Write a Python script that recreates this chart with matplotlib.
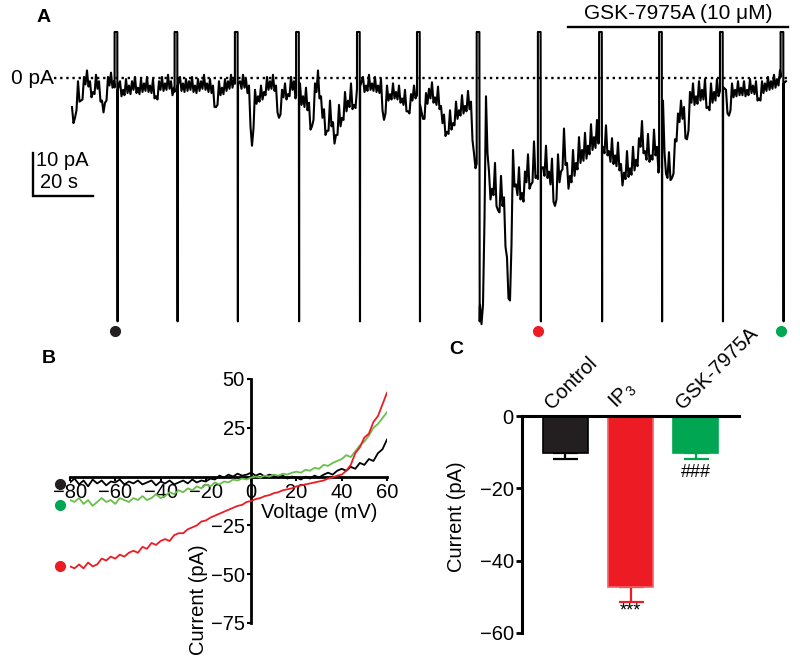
import numpy as np
import matplotlib
matplotlib.use('Agg')
import matplotlib.pyplot as plt

plt.rcParams['font.family'] = ['Liberation Sans', 'DejaVu Sans']
plt.rcParams['mathtext.fontset'] = 'custom'
plt.rcParams['mathtext.rm'] = 'Liberation Sans'
plt.rcParams['mathtext.it'] = 'Liberation Sans:italic'
plt.rcParams['mathtext.bf'] = 'Liberation Sans:bold'

BLACK = '#231f20'
RED = '#ed1c24'
GREEN = '#00a651'
LIGHT_GREEN = '#6abf4b'

# ---- panel A: whole-cell current, one sample per second (pA)
trace_pa = [
    -8, -10.5, -2, -6.5, -1, 0.5, -2, -4.5, -0.5, -2, -6.5, -7, -1, 0, -2,
    -3, -2, -4, -1.5, -3, -2, -1, -3.5, -1.5, -2.5, -1, -3, -1.5, -5.5, -2, -1, -2.5, -0.5, -2, -3.5,
    -2, -1, -2.5, -1.5, -2, -1, -3, -1.5, -2, -0.5, -2.5, -1.5, -3, -8, -2, -3.5, -1.5, -2, -0.5, -1.5,
    -1, -2, -0.5, -1.5, -3, -17, -4, -5.5, -3, -4.5, -1, -2, -0.5, -3, -10.5, -4, -2.5, -5, -1, -2,
    -5, -3, -6, -4, -7.5, -13, -3, 0, -6, -9, -14, -7, -12, -15, -8, -11, -5, -7, -3, -8, -2.5,
    -2, -1, -3, -0.5, -2.5, -1, -3, -1.5, -11, -3, -5, -2.5, -4.5, -3, -6, -4, -9, -5, -3, -4,
    -6, -11, -5, -4, -2.5, -6, -3.5, -8, -10, -14, -9, -12, -7, -9, -5.5, -8, -4.5, -7, -19, -20,
    -55, -55, -6.5, -24, -28, -22, -33, -25, -30, -44, -54, -19, -27, -23, -29, -24, -20, -27, -17, -25,
    -20, -23, -18, -24, -21, -32, -20, -24, -14, -22, -25, -19, -22, -16, -19, -15, -18, -13, -16, -12,
    -14, -18, -13, -19, -16, -20, -17, -22, -24, -19, -23, -18, -21, -16, -12, -19, -15, -20, -14, -18,
    -22, -7, -24, -19, -25, -16, -10, -7, -8.5, -16, -5, -3, -6, -2.5, -4.5, -2, -8.5, -3, -5, -2,
    -3, -2, -4, -10, -2.5, -4, -2, -3.5, -2, -4, -1.5, -3, -2, -6, -2, -2.5, -1, -2, -0.5, -1.5, 0.5, -1, -2,
]
ramp_times = [14.2, 34.2, 54.3, 74.7, 95.0, 115.0, 134.9, 155.3, 175.7, 195.7, 216.0, 236.2]
# peak-to-peak width of the fast noise band between successive ramps (pA)
noise_band_pa = [2.5, 2.5, 2.5, 2.5, 3.5, 2.5, 3.0, 4.5, 4.5, 4.0, 3.5, 2.5, 2.5]
ramp_top = 10.7
ramp_bottom = -56.6

# ---- panel B: I-V relations
voltage_mv = list(range(-80, 61, 2))
iv_control = [
    -3, -1, -4, -2, -5, -1.5, -3.5, -2, -4.5, -2.5, -3, -1.5, -4, -2.5, -3.5, -2, -4, -3,
    -2, -4.5, -2.5, -3.5, -2, -4, -3, -2, -3.5, -1.5, -3, -2, -2.5, -1, -1.5, 0.5, -0.5, 1,
    0, 1.5, 0.5, 1, 2, 0.5, 1.5, 0, 1, 0.5, -0.5, 0.5, -1, 0, -0.5, -1.5, 0, -1, 0.5, -0.5,
    1, 2, 1, 3, 4, 3, 5, 4, 7, 6, 9, 8, 12, 14, 19,
]
iv_gsk = [
    -12, -13, -11, -14, -12, -15, -13, -11, -13, -12, -14, -11, -12, -13, -11, -12, -10, -12,
    -11, -9, -11, -10, -8, -9, -7, -8, -6, -7, -5, -6, -4, -5, -3, -4, -2.5, -3,
    -1.5, -2, -1, -1.5, -0.5, 0, -0.5, 0.5, 0, 1, 0.5, 1.5, 1, 2, 2.5, 2, 3.5, 3, 4.5, 4,
    6, 5.5, 7, 8, 9, 11, 10, 13, 16, 18, 21, 25, 27, 30, 33,
]
iv_ip3 = [
    -46, -47, -45, -47, -44, -46, -45, -42, -43, -41, -42, -40, -41, -39, -38, -39, -36, -37,
    -34, -35, -33, -32, -33, -30, -29, -29, -27, -26, -25, -23, -22.5, -21, -20, -19, -18, -17,
    -16, -15, -14.5, -13, -12.5, -11.5, -11, -10, -9.5, -8.5, -8, -7, -6.5, -6, -5, -4.5, -4, -3.5, -3, -2.5,
    -2, -1, -0.5, 0.5, 1, 3, 6, 12, 15, 20, 22, 28, 31, 37, 43,
]

# ---- panel C: mean current at -80 mV
groups = ['Control', 'IP$_3$', 'GSK-7975A']
mean_pa = [-10.3, -47.3, -10.2]
sem_pa = [1.7, 4.0, 1.6]


def box(x0, y0, x1, y1):
    """Pixel box (top-left origin) to figure fraction."""
    return [x0 / 800, 1 - y1 / 660, (x1 - x0) / 800, (y1 - y0) / 660]


def build_trace(values, ramps, band, top, bottom):
    """Insert the voltage-ramp excursions and the fast noise band into the trace."""
    times = np.arange(len(values), dtype=float)
    xs, ys = [], []
    ri = 0
    skip_until = -1
    for t, v in zip(times, values):
        while ri < len(ramps) and ramps[ri] <= t:
            r = ramps[ri]
            xs += [r, r, r + 0.9, r + 1.0, r + 1.05]
            ys += [np.interp(r, times, values), top, top, bottom,
                   np.interp(r + 1.05, times, values)]
            skip_until = r + 1.05
            ri += 1
        if t <= skip_until:
            continue
        h = band[ri] / 2
        xs.append(t)
        ys.append(v + h)
        nxt = ramps[ri] if ri < len(ramps) else np.inf
        if t + 0.5 < nxt and t + 1 < len(values):
            xs.append(t + 0.5)
            ys.append(np.interp(t + 0.5, times, values) - h)
    return xs, ys


fig = plt.figure(figsize=(8, 6.6), dpi=100)

# ---------------- panel A
ax_a = fig.add_axes(box(0, 0, 800, 340))
ax_a.set_xlim(-24, 242.67)
ax_a.set_ylim(-60.93, 18.14)
ax_a.axis('off')

tx, ty = build_trace(trace_pa, ramp_times, noise_band_pa, ramp_top, ramp_bottom)
ax_a.plot(tx, ty, color='black', lw=1.5, zorder=3)
ax_a.plot([-6.0, 238.5], [0, 0], color='black', lw=1.7,
          ls=(0, (1, 1.6)), zorder=2)
ax_a.text(-6.0, 0, '0 pA', ha='right', va='center', fontsize=15)

# scale bar
ax_a.plot([-13, -13, 7], [-17.4, -27.4, -27.4], color='black', lw=1.7,
          solid_joinstyle='miter')
ax_a.text(-11.9, -19.3, '10 pA', ha='left', va='center', fontsize=14.5)
ax_a.text(-10.8, -24.3, '20 s', ha='left', va='center', fontsize=14.5)

# drug application bar
ax_a.plot([165.3, 238.7], [11.9, 11.9], color='black', lw=1.7)
ax_a.text(202, 14.9, 'GSK-7975A (10 μM)', ha='center', va='center', fontsize=15)

# markers for the ramps shown in B
for t, c in zip([14.3, 155.3, 236.3], [BLACK, RED, GREEN]):
    ax_a.plot(t, -58.8, 'o', color=c, ms=7, clip_on=False)

# ---------------- panel B
ax_b = fig.add_axes(box(70, 379, 387, 623))
ax_b.plot(voltage_mv, iv_control, color='black', lw=1.3, zorder=4)
ax_b.plot(voltage_mv, iv_gsk, color=LIGHT_GREEN, lw=1.3, zorder=4)
ax_b.plot(voltage_mv, iv_ip3, color=RED, lw=1.3, zorder=4)
ax_b.set_xlim(-80, 60)
ax_b.set_ylim(-75, 50)
for side in ['top', 'right']:
    ax_b.spines[side].set_visible(False)
ax_b.spines['left'].set_position(('data', 0))
ax_b.spines['bottom'].set_position(('data', 0))
for side in ['left', 'bottom']:
    ax_b.spines[side].set_linewidth(2)
ax_b.set_xticks(range(-80, 61, 20))
ax_b.set_yticks([-75, -50, -25, 0, 25, 50])
ax_b.set_yticklabels(['\u221275', '\u221250', '\u221225', '', '25', '50'])
ax_b.tick_params(direction='out', length=3, width=1.5, labelsize=14.5, pad=1.5)
ax_b.patch.set_visible(False)

for y, c in zip([-3.6, -14.3, -46], [BLACK, GREEN, RED]):
    ax_b.plot(-84.4, y, 'o', color=c, ms=7, clip_on=False)

fig.text(319 / 800, 1 - 513 / 660, 'Voltage (mV)', ha='center', va='center',
         fontsize=14.5)
fig.text(198 / 800, 1 - 600 / 660, 'Current (pA)', ha='center', va='center',
         rotation=90, fontsize=14.5)

# ---------------- panel C
ax_c = fig.add_axes(box(522, 416, 739, 633))
pos = [0.6, 1.5, 2.4]
fills = [BLACK, RED, GREEN]
edges = ['black', '#f26066', GREEN]
ax_c.bar(pos, mean_pa, width=0.62, color=fills, edgecolor=edges, linewidth=1.2,
         zorder=2)
for p, m, s, c in zip(pos, mean_pa, sem_pa, ['black', RED, GREEN]):
    ax_c.errorbar(p, m, yerr=[[s], [0]], color=c, capsize=9, elinewidth=1.6,
                  capthick=1.6, zorder=1)
ax_c.set_xlim(0, 3)
ax_c.set_ylim(-60, 0)
ax_c.spines['right'].set_visible(False)
ax_c.spines['bottom'].set_visible(False)
ax_c.spines['top'].set_linewidth(2.2)
ax_c.spines['left'].set_linewidth(2.2)
ax_c.spines['top'].set_zorder(3)
ax_c.set_xticks([])
ax_c.set_yticks([0, -20, -40, -60])
ax_c.tick_params(axis='y', direction='out', length=4, width=2, labelsize=14.5, pad=2)
ax_c.patch.set_visible(False)

for p, g in zip(pos, groups):
    ax_c.text(p - 0.14, 0.8, g, rotation=45, rotation_mode='anchor',
              ha='left', va='bottom', fontsize=14.5, clip_on=False)
ax_c.text(1.5, -51.6, '***', ha='center', va='top', fontsize=13)
ax_c.text(2.4, -13.4, '###', ha='center', va='top', fontsize=13)
fig.text(457 / 800, 1 - 517 / 660, 'Current (pA)', ha='center', va='center',
         rotation=90, fontsize=14.5)

# panel letters
fig.text(44 / 800, 1 - 18 / 660, 'A', ha='center', va='center',
         fontsize=14, fontweight='bold')
fig.text(49 / 800, 1 - 358 / 660, 'B', ha='center', va='center',
         fontsize=14, fontweight='bold')
fig.text(456 / 800, 1 - 350 / 660, 'C', ha='center', va='center',
         fontsize=14, fontweight='bold')

fig.savefig('out.png', dpi=100)
